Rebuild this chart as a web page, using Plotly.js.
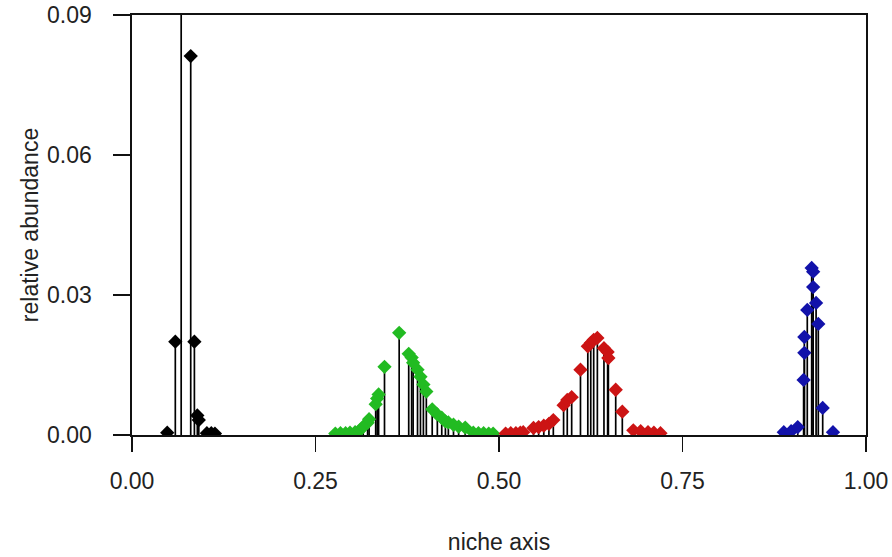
<!DOCTYPE html>
<html>
<head>
<meta charset="utf-8">
<script src="https://cdn.plot.ly/plotly-3.0.1.min.js"></script>
<style>html,body{margin:0;padding:0;background:#fff;}#chart{width:892px;height:557px;}</style>
</head>
<body>
<div id="chart"></div>
<script>
// niche positions and relative abundances, by group
const blackX = [0.048, 0.059, 0.067, 0.080, 0.085, 0.089, 0.091, 0.102, 0.108, 0.113];
const blackY = [0.0005, 0.020, 0.12, 0.0812, 0.020, 0.0042, 0.0032, 0.0004, 0.0004, 0.0003];

const greenX = [0.277, 0.284, 0.291, 0.297, 0.304, 0.311, 0.315, 0.321, 0.323, 0.332, 0.334, 0.336, 0.344, 0.364,
                0.377, 0.381, 0.383, 0.389, 0.393, 0.397, 0.401, 0.409, 0.416, 0.422, 0.427, 0.431, 0.438, 0.445, 0.454,
                0.465, 0.472, 0.479, 0.486, 0.492];
const greenY = [0.0003, 0.0004, 0.0004, 0.0005, 0.0006, 0.0011, 0.0018, 0.0026, 0.0034, 0.0066, 0.0078, 0.0087, 0.0146, 0.0219,
                0.0174, 0.0166, 0.0155, 0.0140, 0.0125, 0.0108, 0.0093, 0.0055, 0.0044, 0.0037, 0.0029, 0.0027, 0.0022, 0.0018, 0.0016,
                0.0005, 0.0004, 0.0004, 0.0003, 0.0003];

const redX = [0.509, 0.516, 0.523, 0.529, 0.533, 0.547, 0.554, 0.561, 0.568, 0.574, 0.588, 0.593, 0.599, 0.611,
              0.621, 0.625, 0.629, 0.634, 0.643, 0.648, 0.649, 0.659, 0.668, 0.683, 0.693, 0.703, 0.711, 0.720];
const redY = [0.0003, 0.0004, 0.0004, 0.0005, 0.0006, 0.0015, 0.0017, 0.0020, 0.0024, 0.0032, 0.0064, 0.0075, 0.0081, 0.0140,
              0.0190, 0.0197, 0.0204, 0.0208, 0.0186, 0.0178, 0.0165, 0.0097, 0.0050, 0.0010, 0.0008, 0.0006, 0.0005, 0.0004];

const blueX = [0.888, 0.898, 0.907, 0.915, 0.916, 0.916, 0.920, 0.926, 0.928, 0.928, 0.932, 0.935, 0.941, 0.955];
const blueY = [0.0006, 0.0008, 0.0017, 0.0118, 0.0176, 0.0210, 0.0268, 0.0358, 0.0350, 0.0317, 0.0283, 0.0238, 0.0058, 0.0006];

const xTicks = [0, 0.25, 0.5, 0.75, 1];
const xTickText = ['0.00', '0.25', '0.50', '0.75', '1.00'];
const yTicks = [0, 0.03, 0.06, 0.09];
const yTickText = ['0.00', '0.03', '0.06', '0.09'];

const groups = [
  {x: blackX, y: blackY, color: '#000000'},
  {x: greenX, y: greenY, color: '#22bb22'},
  {x: redX, y: redY, color: '#cc1414'},
  {x: blueX, y: blueY, color: '#1212aa'}
];

function stems(xs, ys) {
  const sx = [], sy = [];
  xs.forEach((v, i) => { sx.push(v, v, null); sy.push(0, ys[i], null); });
  return {sx, sy};
}

const traces = [];
groups.forEach(g => {
  const s = stems(g.x, g.y);
  traces.push({x: s.sx, y: s.sy, type: 'scatter', mode: 'lines',
    line: {color: '#000000', width: 1.7}, hoverinfo: 'skip', showlegend: false});
});
groups.forEach(g => {
  traces.push({x: g.x, y: g.y, type: 'scatter', mode: 'markers',
    marker: {symbol: 'diamond', size: 11, color: g.color, line: {width: 0}}, showlegend: false});
});

const font = {family: 'Liberation Sans, Arial, sans-serif', size: 23, color: '#222'};
const layout = {
  width: 892, height: 557,
  margin: {l: 132, r: 26, t: 15, b: 122, pad: 0},
  paper_bgcolor: '#fff', plot_bgcolor: '#fff',
  font: font,
  showlegend: false,
  xaxis: {
    range: [0, 1], tickvals: xTicks, ticktext: xTickText,
    showgrid: false, zeroline: false,
    showline: true, linecolor: '#111', linewidth: 1.6, mirror: true,
    ticks: 'outside', ticklen: 15, tickwidth: 1.6, tickcolor: '#111',
    tickfont: font,
    ticklabelstandoff: 10,
    title: {text: 'niche axis', font: font, standoff: 40}
  },
  yaxis: {
    range: [0, 0.09], tickvals: yTicks, ticktext: yTickText,
    showgrid: false, zeroline: false,
    showline: true, linecolor: '#111', linewidth: 1.6, mirror: true,
    ticks: 'outside', ticklen: 17, tickwidth: 1.6, tickcolor: '#111',
    tickfont: font,
    ticklabelstandoff: 17,
    title: {text: 'relative abundance', font: font, standoff: 2}
  }
};

Plotly.newPlot('chart', traces, layout, {displayModeBar: false, staticPlot: true});
</script>
</body>
</html>
